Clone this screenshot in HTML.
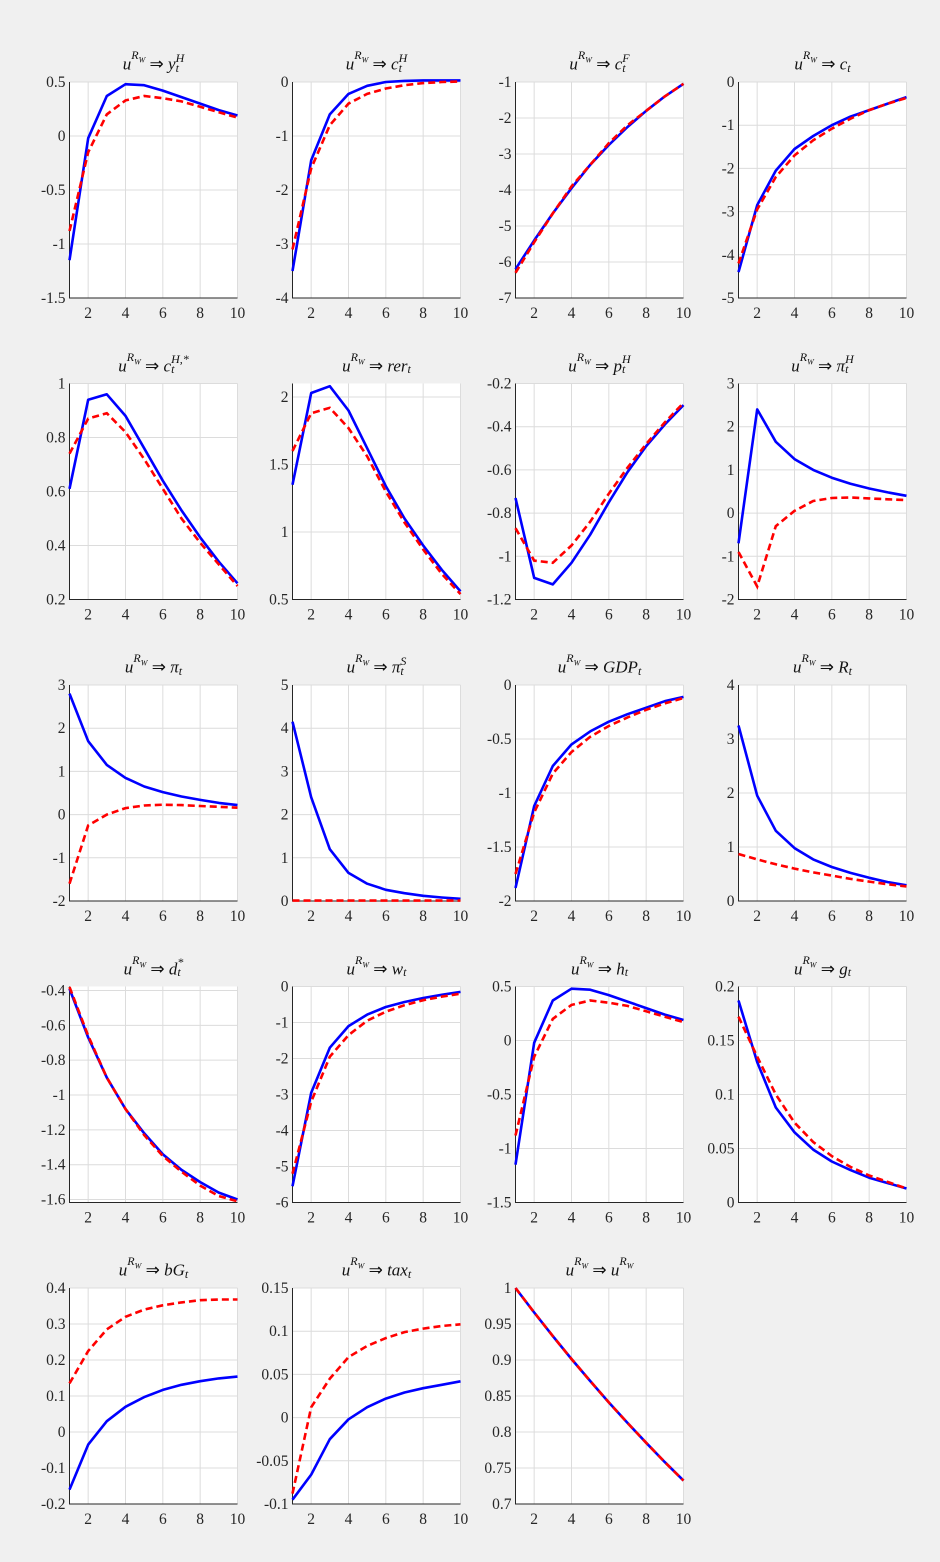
<!DOCTYPE html>
<html><head><meta charset="utf-8"><style>
body{margin:0;background:#f0f0f0;width:940px;height:1562px;overflow:hidden;}
.t{position:absolute;font-family:"Liberation Serif",serif;font-size:17px;color:#111;white-space:nowrap;transform:translateX(-50%);}
.t i{font-style:italic}
.ss{display:inline-block;vertical-align:middle;line-height:10px;font-size:12px;text-align:left;position:relative;top:-3px}
.ss span{display:block}
</style></head><body>
<svg id="s" width="940" height="1562" style="position:absolute;left:0;top:0"></svg>
<div id="titles"></div>
<script>
const P=[
 {t:['y','t','H'],yl:[-1.5,0.5],tk:[-1.5,-1,-0.5,0,0.5],b:[-1.15,-0.02,0.37,0.48,0.47,0.42,0.36,0.30,0.24,0.19],r:[-0.88,-0.15,0.2,0.33,0.37,0.35,0.32,0.27,0.22,0.17]},
 {t:['c','t','H'],yl:[-4,0],tk:[-4,-3,-2,-1,0],b:[-3.5,-1.45,-0.6,-0.22,-0.07,0,0.02,0.03,0.03,0.03],r:[-3.1,-1.6,-0.8,-0.4,-0.22,-0.12,-0.06,-0.02,0,0.01]},
 {t:['c','t','F'],yl:[-7,-1],tk:[-7,-6,-5,-4,-3,-2,-1],b:[-6.2,-5.4,-4.65,-3.95,-3.3,-2.75,-2.25,-1.8,-1.4,-1.05],r:[-6.3,-5.45,-4.65,-3.9,-3.3,-2.7,-2.2,-1.8,-1.4,-1.05]},
 {t:['c','t',''],yl:[-5,0],tk:[-5,-4,-3,-2,-1,0],b:[-4.4,-2.85,-2.05,-1.55,-1.25,-1,-0.8,-0.65,-0.5,-0.35],r:[-4.2,-2.95,-2.2,-1.7,-1.35,-1.08,-0.85,-0.65,-0.5,-0.37]},
 {t:['c','t','H,*'],yl:[0.2,1],tk:[0.2,0.4,0.6,0.8,1],b:[0.61,0.94,0.96,0.88,0.76,0.64,0.53,0.43,0.34,0.26],r:[0.74,0.87,0.89,0.82,0.72,0.61,0.5,0.41,0.33,0.25]},
 {t:['rer','t',''],yl:[0.5,2.1],tk:[0.5,1,1.5,2],b:[1.35,2.03,2.08,1.9,1.62,1.34,1.1,0.9,0.72,0.56],r:[1.6,1.88,1.92,1.77,1.56,1.3,1.07,0.87,0.69,0.54]},
 {t:['p','t','H'],yl:[-1.2,-0.2],tk:[-1.2,-1,-0.8,-0.6,-0.4,-0.2],b:[-0.73,-1.1,-1.13,-1.03,-0.9,-0.75,-0.61,-0.49,-0.39,-0.3],r:[-0.87,-1.02,-1.03,-0.95,-0.84,-0.71,-0.59,-0.48,-0.38,-0.29]},
 {t:['π','t','H'],yl:[-2,3],tk:[-2,-1,0,1,2,3],b:[-0.7,2.4,1.65,1.25,1.0,0.82,0.68,0.57,0.48,0.4],r:[-0.9,-1.7,-0.3,0.05,0.28,0.35,0.36,0.34,0.32,0.3]},
 {t:['π','t',''],yl:[-2,3],tk:[-2,-1,0,1,2,3],b:[2.8,1.7,1.15,0.85,0.65,0.52,0.42,0.34,0.27,0.22],r:[-1.6,-0.25,0,0.15,0.21,0.23,0.22,0.2,0.18,0.16]},
 {t:['π','t','S'],yl:[0,5],tk:[0,1,2,3,4,5],b:[4.15,2.4,1.2,0.65,0.4,0.26,0.18,0.12,0.08,0.05],r:[0.01,0.01,0.01,0.01,0.01,0.01,0.01,0.01,0.01,0.01]},
 {t:['GDP','t',''],yl:[-2,0],tk:[-2,-1.5,-1,-0.5,0],b:[-1.88,-1.12,-0.75,-0.55,-0.43,-0.34,-0.27,-0.21,-0.15,-0.11],r:[-1.75,-1.18,-0.82,-0.62,-0.48,-0.38,-0.3,-0.23,-0.17,-0.12]},
 {t:['R','t',''],yl:[0,4],tk:[0,1,2,3,4],b:[3.25,1.95,1.3,0.98,0.77,0.63,0.52,0.43,0.35,0.29],r:[0.87,0.77,0.68,0.6,0.53,0.47,0.41,0.36,0.31,0.27]},
 {t:['d','t','*'],yl:[-1.617,-0.377],tk:[-1.6,-1.4,-1.2,-1,-0.8,-0.6,-0.4],b:[-0.39,-0.67,-0.9,-1.08,-1.22,-1.34,-1.43,-1.5,-1.56,-1.6],r:[-0.38,-0.66,-0.9,-1.08,-1.23,-1.35,-1.44,-1.52,-1.58,-1.61]},
 {t:['w','t',''],yl:[-6,0],tk:[-6,-5,-4,-3,-2,-1,0],b:[-5.55,-2.95,-1.7,-1.1,-0.78,-0.57,-0.43,-0.32,-0.23,-0.15],r:[-5.2,-3.2,-1.95,-1.35,-0.95,-0.7,-0.52,-0.38,-0.28,-0.2]},
 {t:['h','t',''],yl:[-1.5,0.5],tk:[-1.5,-1,-0.5,0,0.5],b:[-1.15,-0.02,0.37,0.48,0.47,0.42,0.36,0.30,0.24,0.19],r:[-0.88,-0.15,0.2,0.33,0.37,0.35,0.32,0.27,0.22,0.17]},
 {t:['g','t',''],yl:[0,0.2],tk:[0,0.05,0.1,0.15,0.2],b:[0.187,0.13,0.088,0.065,0.049,0.038,0.03,0.023,0.018,0.013],r:[0.172,0.135,0.1,0.074,0.056,0.043,0.033,0.025,0.019,0.013]},
 {t:['bG','t',''],yl:[-0.2,0.4],tk:[-0.2,-0.1,0,0.1,0.2,0.3,0.4],b:[-0.16,-0.035,0.03,0.07,0.097,0.117,0.131,0.141,0.149,0.154],r:[0.135,0.225,0.285,0.32,0.34,0.352,0.36,0.366,0.368,0.368]},
 {t:['tax','t',''],yl:[-0.1,0.15],tk:[-0.1,-0.05,0,0.05,0.1,0.15],b:[-0.095,-0.066,-0.025,-0.002,0.012,0.022,0.029,0.034,0.038,0.042],r:[-0.088,0.012,0.045,0.07,0.083,0.092,0.099,0.103,0.106,0.108]},
 {t:['u','RW',''],u:1,yl:[0.7,1],tk:[0.7,0.75,0.8,0.85,0.9,0.95,1],b:[],r:[]}
];
for(let i=0;i<10;i++){P[18].b.push(Math.pow(0.966,i));P[18].r.push(Math.pow(0.966,i));}
let s='',T='';
const lefts=[69.5,292.5,515.5,738.5],tops=[82,383.5,685,986.5,1288],W=168,H=216;
P.forEach((p,k)=>{
 const L=lefts[k%4],Tp=tops[Math.floor(k/4)];
 const X=x=>L+(x-1)/9*W, Y=v=>Tp+H-(v-p.yl[0])/(p.yl[1]-p.yl[0])*H;
 s+=`<rect x="${L}" y="${Tp}" width="${W}" height="${H}" fill="#fff"/>`;
 [2,4,6,8,10].forEach(x=>{s+=`<line x1="${X(x)}" x2="${X(x)}" y1="${Tp}" y2="${Tp+H}" stroke="#dcdcdc"/>`;
  s+=`<text x="${X(x)}" y="${Tp+H+20}" text-anchor="middle" font-family="Liberation Serif,serif" font-size="15.5" fill="#262626">${x}</text>`;});
 p.tk.forEach(v=>{const y=Y(v);s+=`<line x1="${L}" x2="${L+W}" y1="${y}" y2="${y}" stroke="#dcdcdc"/>`;
  s+=`<text x="${L-4}" y="${y+5}" text-anchor="end" font-family="Liberation Serif,serif" font-size="15.5" fill="#262626">${v}</text>`;});
 s+=`<path d="M${L} ${Tp}V${Tp+H}H${L+W}" fill="none" stroke="#262626" stroke-width="1"/>`;
 const pts=a=>a.map((v,i)=>X(i+1).toFixed(1)+','+Y(v).toFixed(1)).join(' ');
 s+=`<polyline points="${pts(p.b)}" fill="none" stroke="#0000ff" stroke-width="2.6" stroke-linejoin="round"/>`;
 s+=`<polyline points="${pts(p.r)}" fill="none" stroke="#ff0000" stroke-width="2.6" stroke-dasharray="7,4"/>`;
 let rhs;
 if(p.u) rhs=`<i>u</i><span class="ss"><span><i>R<sub style="font-size:8px">W</sub></i></span><span>&nbsp;</span></span>`;
 else rhs=`<i>${p.t[0]}</i><span class="ss"><span><i>${p.t[2]||'&nbsp;'}</i></span><span><i>${p.t[1]}</i></span></span>`;
 T+=`<div class="t" style="left:${L+W/2}px;top:${Tp-29}px"><i>u</i><span class="ss"><span><i>R<sub style="font-size:8px">W</sub></i></span><span>&nbsp;</span></span> ⇒ ${rhs}</div>`;
});
document.getElementById('s').innerHTML=s;
document.getElementById('titles').innerHTML=T;
</script>
</body></html>
